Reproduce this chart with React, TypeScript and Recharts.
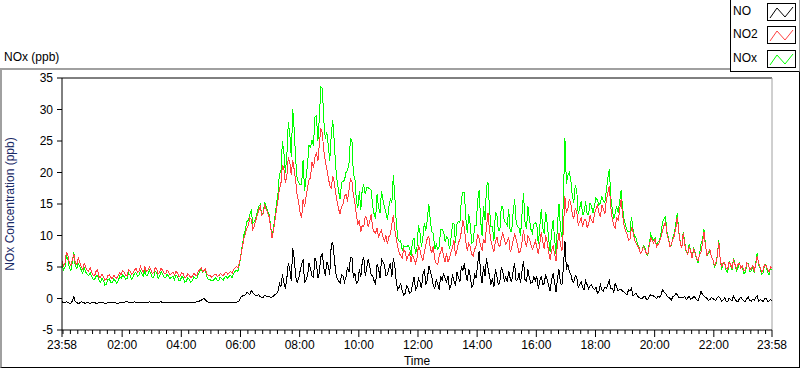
import { LineChart, Line, XAxis, YAxis, ReferenceLine } from "recharts";

document.body.style.margin = "0";

// readings every 6 minutes from 23:58, plus the readings 3 minutes after each
const STEP_MIN = 6;

const no2 = [
  6.0, 5.6, 6.8, 5.2, 7.0, 5.4, 5.8, 4.6, 5.0, 4.3,
  4.2, 3.6, 4.5, 3.3, 3.5, 3.1, 3.8, 3.2, 3.4, 3.6,
  3.8, 4.2, 3.7, 4.4, 4.0, 4.8, 4.3, 4.6, 5.0, 4.4,
  4.6, 4.1, 4.7, 4.2, 4.5, 3.9, 4.3, 4.0, 3.7, 4.1,
  3.6, 3.9, 3.4, 3.7, 3.5, 3.8, 4.2, 4.9, 4.4, 3.9,
  3.7, 3.5, 3.9, 3.6, 3.8, 4.0, 3.9, 4.3, 4.6, 5.1,
  5.8, 8.2, 10.3, 11.6, 12.6, 11.5, 13.2, 14.6, 13.4, 14.2,
  13.0, 9.6, 12.4, 15.6, 18.2, 20.6, 19.4, 21.6, 22.0, 18.6,
  15.2, 12.8, 14.6, 17.6, 19.2, 20.8, 23.2, 24.6, 26.2, 21.8,
  19.2, 17.4, 18.6, 15.4, 13.4, 15.0, 16.6, 17.2, 18.6, 15.2,
  11.8, 10.6, 11.4, 12.8, 12.2, 11.2, 10.4, 9.6, 10.8, 9.2,
  8.6, 10.2, 13.2, 9.4, 7.2, 6.4, 7.4, 6.8, 5.8, 6.2,
  6.4, 7.8, 6.0, 8.6, 9.8, 7.2, 6.2, 5.4, 7.4, 6.6,
  7.2, 6.4, 8.0, 6.8, 8.8, 10.6, 11.2, 7.6, 8.2, 6.8,
  8.4, 9.6, 7.6, 8.8, 13.6, 9.2, 7.4, 9.8, 8.2, 10.4,
  8.6, 9.8, 8.0, 10.2, 8.4, 7.6, 10.8, 8.2, 9.4, 7.8,
  9.2, 7.0, 10.6, 7.8, 9.0, 6.2, 8.4, 6.0, 10.4, 7.6,
  16.2, 14.2, 15.0, 12.6, 13.8, 12.2, 11.4, 12.6, 11.8, 12.4,
  13.4, 14.8, 13.0, 14.2, 15.6, 17.8, 12.6, 11.2, 12.4, 15.8,
  11.6, 10.2, 9.4, 10.6, 8.8, 8.0, 7.4, 7.8, 7.0, 9.6,
  8.8, 8.2, 9.0, 10.8, 12.2, 9.4, 8.6, 10.0, 13.0, 8.8,
  10.4, 7.6, 8.2, 6.4, 7.2, 6.0, 7.4, 10.6, 6.8, 7.8,
  6.2, 5.6, 9.0, 5.0, 5.6, 4.6, 5.4, 6.0, 4.8, 5.6,
  5.2, 4.6, 5.4, 4.8, 4.4, 6.8, 5.0, 4.6, 5.2, 4.2, 4.8,
];
const no2Mid = [
  5.2, 7.4, 5.6, 6.2, 5.6, 6.4, 5.0, 5.6, 4.5, 4.9,
  3.7, 4.3, 3.5, 3.9, 2.9, 3.6, 3.3, 3.7, 3.2, 4.1,
  4.4, 3.6, 4.6, 3.8, 4.5, 4.1, 5.1, 4.2, 4.3, 5.0,
  4.0, 4.9, 3.9, 4.8, 4.0, 4.5, 3.7, 4.2, 4.3, 3.5,
  4.1, 3.3, 3.9, 3.3, 4.0, 3.6, 4.6, 4.3, 4.7, 3.6,
  3.4, 3.8, 3.5, 4.0, 3.6, 4.2, 4.1, 4.0, 4.9, 4.8,
  6.8, 9.6, 11.2, 12.8, 11.0, 12.4, 14.0, 13.2, 14.8, 13.6,
  11.4, 10.8, 14.2, 17.4, 21.2, 18.4, 22.4, 19.6, 20.4, 16.4,
  13.6, 15.8, 16.2, 18.8, 21.6, 22.4, 21.8, 27.0, 23.4, 20.6,
  18.0, 19.4, 16.8, 14.2, 14.6, 16.2, 15.4, 19.0, 16.4, 13.2,
  12.4, 11.6, 13.0, 11.4, 13.4, 10.6, 11.2, 10.4, 9.8, 10.0,
  9.8, 11.8, 11.0, 8.2, 6.8, 7.8, 6.2, 7.2, 7.0, 5.6,
  8.4, 6.6, 7.4, 9.6, 8.0, 8.4, 5.6, 6.8, 8.2, 5.8,
  5.8, 7.4, 9.2, 7.6, 9.4, 12.4, 9.0, 8.8, 7.0, 7.8,
  10.2, 8.4, 9.4, 11.4, 10.8, 8.2, 9.0, 8.6, 9.6, 9.4,
  9.0, 7.4, 9.2, 9.4, 7.2, 9.0, 9.2, 10.0, 8.6, 8.4,
  8.2, 8.6, 9.0, 10.0, 7.4, 7.6, 7.0, 8.8, 8.6, 11.0,
  13.6, 15.8, 13.4, 14.4, 11.6, 12.8, 12.4, 11.2, 13.2, 12.0,
  14.2, 13.6, 14.8, 13.4, 16.8, 14.6, 11.6, 12.8, 14.0, 13.2,
  10.8, 9.2, 11.4, 9.4, 8.4, 7.2, 8.2, 7.2, 8.4, 9.2,
  9.4, 8.6, 9.8, 11.6, 10.2, 8.2, 9.4, 11.2, 10.4, 8.0,
  8.6, 7.0, 7.6, 7.8, 6.4, 6.8, 8.8, 8.4, 7.4, 6.6,
  5.2, 6.6, 6.2, 5.8, 4.8, 5.8, 4.8, 5.4, 5.4, 4.8,
  4.4, 5.6, 4.6, 5.2, 5.4, 5.6, 4.2, 5.4, 4.6, 5.0,
];

const no = [
  -0.5, -0.7, -0.6, -0.8, 0.3, -0.6, -0.7, -0.6, -0.8, -0.7,
  -0.7, -0.6, -0.8, -0.7, -0.6, -0.8, -0.7, -0.7, -0.6, -0.8,
  -0.6, -0.7, -0.5, -0.7, -0.6, -0.7, -0.6, -0.7, -0.6, -0.7,
  -0.6, -0.7, -0.6, -0.6, -0.7, -0.6, -0.7, -0.6, -0.7, -0.6,
  -0.7, -0.6, -0.7, -0.6, -0.7, -0.6, -0.5, -0.3, 0.0, -0.5,
  -0.7, -0.7, -0.6, -0.7, -0.7, -0.6, -0.7, -0.6, -0.7, -0.6,
  -0.3, 0.4, 0.6, 0.8, 1.3, 0.7, 0.5, 0.3, 0.2, 0.4,
  0.3, 0.2, 0.6, 1.1, 1.8, 2.6, 3.2, 4.6, 8.0, 3.4,
  3.2, 5.4, 2.4, 3.6, 4.8, 3.4, 5.8, 4.2, 7.2, 3.6,
  5.2, 8.4, 6.6, 3.2, 2.4, 3.6, 3.4, 4.2, 6.6, 4.0,
  2.6, 3.4, 6.6, 4.8, 5.2, 3.6, 2.2, 4.8, 6.2, 5.4,
  3.8, 5.6, 6.4, 2.6, 1.8, 1.2, 0.8, 1.6, 1.0, 3.4,
  1.8, 2.6, 3.8, 2.2, 5.2, 3.4, 1.6, 2.4, 3.6, 4.0,
  2.6, 1.4, 3.8, 2.0, 3.4, 5.2, 5.6, 2.8, 3.6, 2.2,
  3.2, 7.6, 2.4, 3.6, 4.8, 2.2, 1.8, 3.6, 2.6, 4.2,
  3.4, 4.4, 2.6, 5.6, 3.0, 2.4, 6.0, 2.8, 3.2, 2.6,
  2.8, 1.6, 3.6, 2.4, 3.0, 1.2, 4.0, 1.0, 4.6, 2.2,
  9.2, 5.4, 3.8, 2.6, 3.4, 2.2, 1.8, 2.8, 1.6, 2.2,
  1.4, 0.8, 2.2, 1.2, 1.6, 2.8, 1.6, 2.4, 1.2, 1.4,
  1.0, 0.6, 1.2, 0.4, 0.8, 0.2, 0.0, 0.4, -0.2, 0.6,
  0.4, 0.0, 0.2, 1.4, 0.8, 0.2, -0.2, 0.4, 0.6, 0.2,
  0.2, -0.2, 0.4, 0.0, 0.2, -0.3, 1.2, 0.4, 0.0, -0.2,
  0.0, -0.3, 0.3, -0.4, 0.1, -0.5, -0.2, 0.4, -0.4, 0.0,
  -0.2, -0.5, 0.2, -0.4, -0.3, 0.4, -0.2, -0.5, 0.1, -0.4, -0.3,
];
const noMid = [
  -0.7, -0.5, -0.8, -0.4, -0.5, -0.8, -0.5, -0.7, -0.6, -0.8,
  -0.6, -0.8, -0.6, -0.7, -0.8, -0.6, -0.7, -0.6, -0.8, -0.6,
  -0.7, -0.5, -0.6, -0.7, -0.5, -0.6, -0.7, -0.6, -0.7, -0.5,
  -0.7, -0.6, -0.7, -0.5, -0.6, -0.7, -0.6, -0.7, -0.6, -0.7,
  -0.6, -0.7, -0.6, -0.7, -0.6, -0.5, -0.4, -0.1, -0.2, -0.6,
  -0.6, -0.7, -0.7, -0.6, -0.7, -0.7, -0.6, -0.7, -0.6, -0.5,
  0.2, 0.5, 1.0, 0.6, 0.9, 0.4, 0.6, 0.2, 0.5, 0.3,
  0.2, 0.4, 0.8, 2.4, 3.8, 1.6, 5.6, 2.8, 6.4, 2.6,
  4.4, 6.2, 3.0, 5.6, 3.6, 6.4, 3.2, 6.6, 4.8, 5.8,
  3.8, 9.0, 4.2, 2.8, 3.8, 2.6, 5.0, 6.4, 3.2, 2.4,
  4.6, 5.8, 3.6, 6.2, 3.8, 2.8, 5.4, 3.2, 5.8, 3.6,
  4.8, 3.4, 5.2, 1.4, 2.4, 0.6, 2.0, 0.8, 2.2, 1.4,
  3.2, 1.6, 4.6, 3.0, 4.4, 2.0, 3.0, 1.4, 2.8, 3.2,
  3.6, 2.2, 2.8, 4.2, 2.6, 4.4, 3.8, 4.6, 1.8, 3.8,
  5.4, 4.0, 5.2, 6.4, 3.6, 3.2, 4.6, 2.2, 5.0, 2.8,
  2.6, 3.2, 4.4, 2.8, 4.0, 4.4, 3.0, 4.6, 2.4, 3.4,
  3.6, 2.8, 2.2, 3.8, 2.0, 3.0, 2.6, 3.2, 2.4, 5.0,
  4.6, 4.2, 2.8, 3.6, 1.8, 2.6, 1.4, 2.2, 2.0, 1.6,
  1.8, 1.2, 1.4, 1.8, 2.2, 1.6, 1.0, 1.8, 1.4, 1.2,
  0.8, 1.4, 1.6, 0.6, 0.4, 0.0, 0.2, -0.1, 0.3, 0.4,
  0.2, 0.4, 0.6, 1.0, 0.4, 0.0, 0.3, 0.8, 0.2, 0.1,
  0.3, 0.1, -0.1, 0.3, -0.2, 0.2, 0.6, 0.2, -0.3, 0.1,
  -0.2, 0.2, 0.0, -0.2, -0.4, 0.1, -0.3, -0.1, -0.5, 0.2,
  -0.4, 0.0, -0.3, -0.1, 0.2, -0.4, -0.3, 0.0, -0.5, -0.2,
];

const nox = [
  5.5, 4.9, 6.2, 4.4, 7.3, 4.8, 5.1, 4.0, 4.2, 3.6,
  3.5, 3.0, 3.7, 2.6, 2.9, 2.3, 3.1, 2.5, 2.8, 2.8,
  3.2, 3.5, 3.2, 3.7, 3.4, 4.1, 3.7, 3.9, 4.4, 3.7,
  4.0, 3.4, 4.1, 3.6, 3.8, 3.3, 3.6, 3.4, 3.0, 3.5,
  2.9, 3.3, 2.7, 3.1, 2.8, 3.2, 3.7, 4.6, 4.4, 3.4,
  3.0, 2.8, 3.3, 2.9, 3.1, 3.4, 3.2, 3.7, 3.9, 4.5,
  5.5, 8.6, 10.9, 12.4, 13.9, 12.2, 13.7, 14.9, 13.6, 14.6,
  13.3, 9.8, 13.0, 16.7, 20.0, 23.2, 22.6, 26.2, 30.0, 22.0,
  18.4, 18.2, 17.0, 21.2, 24.0, 24.2, 29.0, 28.8, 33.4, 25.4,
  24.4, 25.8, 25.2, 18.6, 15.8, 18.6, 20.0, 21.4, 25.2, 19.2,
  14.4, 14.0, 18.0, 17.6, 17.4, 14.8, 12.6, 14.4, 17.0, 14.6,
  12.4, 15.8, 19.6, 12.0, 9.0, 7.6, 8.2, 8.4, 6.8, 9.6,
  8.2, 10.4, 9.8, 10.8, 15.0, 10.6, 7.8, 7.8, 11.0, 10.6,
  9.8, 7.8, 11.8, 8.8, 12.2, 15.8, 16.8, 10.4, 11.8, 9.0,
  11.6, 17.2, 10.0, 12.4, 18.4, 11.4, 9.2, 13.4, 10.8, 14.6,
  12.0, 14.2, 10.6, 15.8, 11.4, 10.0, 16.8, 11.0, 12.6, 10.4,
  12.0, 8.6, 14.2, 10.2, 12.0, 7.4, 12.4, 7.0, 15.0, 9.8,
  25.4, 19.6, 18.8, 15.2, 17.2, 14.4, 13.2, 15.4, 13.4, 14.6,
  14.8, 15.6, 15.2, 15.4, 17.2, 20.6, 14.2, 13.6, 13.6, 17.2,
  12.6, 10.8, 10.6, 11.0, 9.6, 8.2, 7.4, 8.2, 6.8, 10.2,
  9.2, 8.2, 9.2, 12.2, 13.0, 9.6, 8.4, 10.4, 13.6, 9.0,
  10.6, 7.4, 8.6, 6.4, 7.4, 5.7, 8.6, 11.0, 6.8, 7.6,
  6.2, 5.3, 9.3, 4.6, 5.7, 4.1, 5.2, 6.4, 4.4, 5.6,
  5.0, 4.1, 5.6, 4.4, 4.1, 7.2, 4.8, 4.1, 5.3, 3.8, 4.5,
];
const noxMid = [
  4.5, 6.9, 4.8, 5.8, 5.1, 5.6, 4.5, 4.9, 3.9, 4.1,
  3.1, 3.5, 2.9, 3.2, 2.1, 3.0, 2.6, 3.1, 2.4, 3.5,
  3.7, 3.1, 4.0, 3.1, 4.0, 3.5, 4.4, 3.6, 3.6, 4.5,
  3.3, 4.3, 3.2, 4.3, 3.4, 3.8, 3.1, 3.5, 3.7, 2.8,
  3.5, 2.6, 3.3, 2.6, 3.4, 3.1, 4.2, 4.2, 4.5, 3.0,
  2.8, 3.1, 2.8, 3.4, 2.9, 3.5, 3.5, 3.3, 4.3, 4.3,
  7.0, 10.1, 12.2, 13.4, 11.9, 12.8, 14.6, 13.4, 15.3, 13.9,
  11.6, 11.2, 15.0, 19.8, 25.0, 20.0, 28.0, 22.4, 26.8, 19.0,
  18.0, 22.0, 19.2, 24.4, 25.2, 28.8, 25.0, 33.6, 28.2, 26.4,
  21.8, 28.4, 21.0, 17.0, 18.4, 18.8, 20.4, 25.4, 19.6, 15.6,
  17.0, 17.4, 16.6, 17.6, 17.2, 13.4, 16.6, 13.6, 15.6, 13.6,
  14.6, 15.2, 16.2, 9.6, 9.2, 8.4, 8.2, 8.0, 9.2, 7.0,
  11.6, 8.2, 12.0, 12.6, 12.4, 10.4, 8.6, 8.2, 11.0, 9.0,
  9.4, 9.6, 12.0, 11.8, 12.0, 16.8, 12.8, 13.4, 8.8, 11.6,
  15.6, 12.4, 14.6, 17.8, 14.4, 11.4, 13.6, 10.8, 14.6, 12.2,
  11.6, 10.6, 13.6, 12.2, 11.2, 13.4, 12.2, 14.6, 11.0, 11.8,
  11.8, 11.4, 11.2, 13.8, 9.4, 10.6, 9.6, 12.0, 11.0, 16.0,
  18.2, 20.0, 16.2, 18.0, 13.4, 15.4, 13.8, 13.4, 15.2, 13.6,
  16.0, 14.8, 16.2, 15.2, 19.0, 16.2, 12.6, 14.6, 15.4, 14.4,
  11.6, 10.6, 13.0, 10.0, 8.8, 7.2, 8.4, 7.1, 8.7, 9.6,
  9.6, 9.0, 10.4, 12.6, 10.6, 8.2, 9.7, 12.0, 10.6, 8.1,
  8.9, 7.1, 7.5, 8.1, 6.2, 7.0, 9.4, 8.6, 7.1, 6.7,
  5.0, 6.8, 6.2, 5.6, 4.4, 5.9, 4.5, 5.3, 4.9, 5.0,
  4.0, 5.6, 4.3, 5.1, 5.6, 5.2, 3.9, 5.4, 4.1, 4.8,
];

// minutes after 23:58 for the labelled ticks
const majorTicks = [0, 122, 242, 362, 482, 602, 722, 842, 962, 1082, 1202, 1322, 1440];
const majorLabels = [
  "23:58", "02:00", "04:00", "06:00", "08:00", "10:00", "12:00",
  "14:00", "16:00", "18:00", "20:00", "22:00", "23:58",
];
const yTicks = [-5, 0, 5, 10, 15, 20, 25, 30, 35];

const series = [
  { key: "nox", name: "NOx", color: "#00ff00" },
  { key: "no2", name: "NO2", color: "#ff4040" },
  { key: "no", name: "NO", color: "#000000" },
];
const legendOrder = ["NO", "NO2", "NOx"];

const data: { t: number; no2: number; no: number; nox: number }[] = [];
no2.forEach((v, i) => {
  data.push({ t: i * STEP_MIN, no2: v, no: no[i], nox: nox[i] });
  if (i < no2Mid.length) {
    data.push({ t: i * STEP_MIN + STEP_MIN / 2, no2: no2Mid[i], no: noMid[i], nox: noxMid[i] });
  }
});

// quarter-hour minor ticks (00:00 is 2 minutes in)
const minorTicks: number[] = [];
for (let m = 2; m < 1440; m += 15) if (!majorTicks.includes(m)) minorTicks.push(m);
const allTicks = [...majorTicks, ...minorTicks].sort((a, b) => a - b);

const FONT = "Segoe UI, Tahoma, 'Liberation Sans', Arial, sans-serif";

function TimeTick(props: any) {
  const { x, y, payload } = props;
  const idx = majorTicks.indexOf(payload.value);
  const major = idx >= 0;
  return (
    <g>
      <line x1={x} x2={x} y1={y} y2={y + (major ? 7 : 4)} stroke="#000" />
      {major && (
        <text x={x} y={y + 19} textAnchor="middle" fontSize={12} fill="#000" fontFamily={FONT}>
          {majorLabels[idx]}
        </text>
      )}
    </g>
  );
}

function Swatch({ color }: { color: string }) {
  return (
    <svg width={29} height={18} style={{ display: "block" }}>
      <rect x={0.5} y={0.5} width={28} height={17} fill="#fff" stroke="#000" />
      <polyline points="3,15 10,5 18,14 26,4" fill="none" stroke={color} strokeWidth={1} />
    </svg>
  );
}

export default function App() {
  return (
    <div style={{ position: "relative", width: 800, height: 369, background: "#fff", fontFamily: FONT }}>
      <style>{".recharts-line-curve{shape-rendering:crispEdges}"}</style>
      <div
        style={{
          position: "absolute",
          left: 0,
          top: 68,
          width: 800,
          height: 300,
          boxSizing: "border-box",
          borderTop: "2px solid #a0a0a0",
          borderLeft: "2px solid #a0a0a0",
          borderRight: "1px solid #000",
          borderBottom: "1px solid #000",
        }}
      />
      <div style={{ position: "absolute", left: 4, top: 50, fontSize: 12, color: "#000" }}>NOx (ppb)</div>
      <div style={{ position: "absolute", left: 0, top: 0 }}>
        <LineChart width={800} height={369} data={data} margin={{ top: 78, right: 28, bottom: 0, left: 0 }}>
          <XAxis
            dataKey="t"
            type="number"
            domain={[0, 1440]}
            ticks={allTicks}
            interval={0}
            tickSize={0}
            tickMargin={0}
            tickLine={false}
            tick={(p: any) => <TimeTick {...p} />}
            axisLine={{ stroke: "#000" }}
            height={39}
            label={{ value: "Time", position: "insideBottom", offset: 4, fill: "#000", fontSize: 12 }}
          />
          <YAxis
            type="number"
            domain={[-5, 35]}
            ticks={yTicks}
            interval={0}
            width={62}
            tickSize={5}
            tickMargin={4}
            tickLine={{ stroke: "#000" }}
            axisLine={{ stroke: "#000" }}
            tick={{ fill: "#000", fontSize: 12, fontFamily: FONT }}
            label={{
              value: "NOx Concentration (ppb)",
              angle: -90,
              position: "insideLeft",
              offset: 10,
              fill: "#1a2a66",
              fontSize: 12,
              style: { textAnchor: "middle" },
            }}
          />
          <ReferenceLine y={35} stroke="#000" />
          <ReferenceLine x={1440} stroke="#a0a0a0" />
          {series.map((s) => (
            <Line
              key={s.key}
              dataKey={s.key}
              name={s.name}
              type="linear"
              stroke={s.color}
              strokeWidth={1}
              dot={false}
              activeDot={false}
              isAnimationActive={false}
            />
          ))}
        </LineChart>
      </div>
      <div
        style={{
          position: "absolute",
          left: 730,
          top: 0,
          width: 70,
          height: 72,
          boxSizing: "border-box",
          background: "#fff",
          borderLeft: "1px solid #000",
          borderBottom: "1px solid #000",
          borderRight: "1px solid #a0a0a0",
        }}
      >
        {legendOrder.map((name, i) => {
          const s = series.find((x) => x.name === name)!;
          return (
            <div
              key={name}
              style={{ position: "absolute", left: 2, top: 3 + i * 23.3, width: 66, height: 18, fontSize: 12, color: "#000" }}
            >
              <span style={{ position: "absolute", left: 0, top: 1 }}>{name}</span>
              <div style={{ position: "absolute", left: 34, top: 0 }}>
                <Swatch color={s.color} />
              </div>
            </div>
          );
        })}
      </div>
    </div>
  );
}
